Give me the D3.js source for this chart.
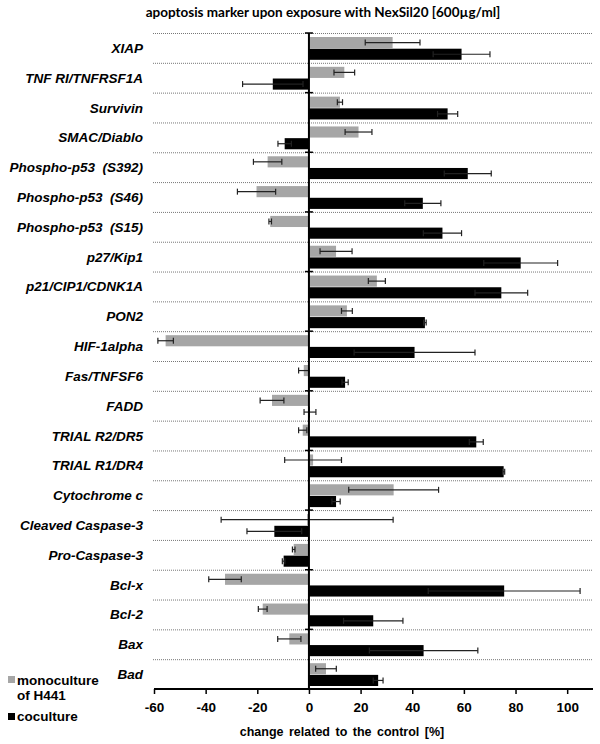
<!DOCTYPE html>
<html>
<head>
<meta charset="utf-8">
<script src="https://cdn.jsdelivr.net/npm/d3@7"></script>
<style>
  body { margin: 0; background: #fff; }
  svg { display: block; }
</style>
</head>
<body>
<svg id="chart" width="600" height="744"></svg>
<script>
// categories, top to bottom
const markers = ["XIAP", "TNF RI/TNFRSF1A", "Survivin", "SMAC/Diablo", "Phospho-p53  (S392)",
  "Phospho-p53  (S46)", "Phospho-p53  (S15)", "p27/Kip1", "p21/CIP1/CDNK1A", "PON2",
  "HIF-1alpha", "Fas/TNFSF6", "FADD", "TRIAL R2/DR5", "TRIAL R1/DR4", "Cytochrome c",
  "Cleaved Caspase-3", "Pro-Caspase-3", "Bcl-x", "Bcl-2", "Bax", "Bad"];
const mono = [32.4, 13.7, 12, 19.2, -16, -20.3, -15, 10.5, 26.3, 14.7,
  -55.5, -2, -14.3, -2.4, 1.6, 32.8, -0.7, -5.9, -32.5, -17.9, -7.6, 6.6];
const monoErr = [10.6, 4, 1, 5.2, 5.5, 7.4, 0.5, 6.2, 3.3, 2.1,
  3, 2, 4.6, 1.6, 11, 17.4, 33.3, 0.5, 6.3, 1.7, 4.5, 4];
const cocu = [59.1, -14, 53.7, -9.4, 61.5, 44.1, 51.7, 82, 74.5, 44.9,
  40.9, 14, 0.4, 64.8, 75.4, 10.5, -13.4, -9.8, 75.6, 24.9, 44.4, 26.8];
const cocuErr = [11, 11.7, 3.9, 2.6, 9.1, 7, 7.4, 14.3, 10.2, 0.5,
  23.4, 1.2, 2.3, 2.7, 0.4, 1.6, 10.6, 0.5, 29.4, 11.5, 21, 1.9];
const xTicks = [-60, -40, -20, 0, 20, 40, 60, 80, 100];
const seriesNames = ["monoculture", "coculture"];
const seriesColors = ["#a6a6a6", "#000000"];

const svg = d3.select("#chart");
const plotLeft = 154, plotRight = 593, plotTop = 33, plotBottom = 689;
const arial = "'Liberation Sans', Arial, sans-serif";

const x = d3.scaleLinear().domain([-60, 110]).range([plotLeft, plotRight]);
const y = d3.scaleBand().domain(markers).range([plotTop, plotBottom]).padding(0);
const sub = d3.scaleBand().domain(seriesNames).range([4, y.bandwidth() - 3]).paddingInner(0.05);

// title
svg.append("text").attr("x", 323).attr("y", 17).attr("text-anchor", "middle")
  .style("font-family", "Lato, 'Open Sans', sans-serif").style("font-weight", "bold")
  .style("font-size", "13.5px").text("apoptosis marker upon exposure with NexSil20 [600µg/ml]");

// dotted separators
const seps = markers.map(m => y(m));
svg.append("g").selectAll("line").data(seps).enter().append("line")
  .attr("x1", plotLeft - 1).attr("x2", plotRight - 1)
  .attr("y1", d => d + 0.5).attr("y2", d => d + 0.5)
  .attr("stroke", "#777").attr("stroke-width", 1).attr("stroke-dasharray", "1,1");

// bars
const rows = markers.map((m, i) => ({ m: m, vals: [
  { s: "monoculture", v: mono[i], e: monoErr[i] },
  { s: "coculture", v: cocu[i], e: cocuErr[i] }] }));

const rowG = svg.append("g").selectAll("g").data(rows).enter().append("g")
  .attr("transform", d => "translate(0," + y(d.m) + ")");

rowG.selectAll("rect").data(d => d.vals).enter().append("rect")
  .attr("x", d => x(Math.min(0, d.v)))
  .attr("width", d => Math.abs(x(d.v) - x(0)))
  .attr("y", d => sub(d.s))
  .attr("height", sub.bandwidth())
  .attr("fill", (d, i) => seriesColors[i]);

// error bars
const err = rowG.selectAll("g.err").data(d => d.vals).enter().append("g").attr("class", "err");
err.append("line")
  .attr("x1", d => x(d.v - d.e)).attr("x2", d => x(d.v + d.e))
  .attr("y1", d => sub(d.s) + sub.bandwidth() / 2).attr("y2", d => sub(d.s) + sub.bandwidth() / 2)
  .attr("stroke", "#222").attr("stroke-width", 1.2);
err.selectAll("line.cap").data(d => [d.v - d.e, d.v + d.e].map(c => ({ c: c, s: d.s })))
  .enter().append("line").attr("class", "cap")
  .attr("x1", d => x(d.c)).attr("x2", d => x(d.c))
  .attr("y1", d => sub(d.s) + sub.bandwidth() / 2 - 3).attr("y2", d => sub(d.s) + sub.bandwidth() / 2 + 3)
  .attr("stroke", "#222").attr("stroke-width", 1.2);

// category labels
svg.append("g").selectAll("text").data(markers).enter().append("text")
  .attr("x", 143).attr("y", d => y(d) + y.bandwidth() / 2 + 5)
  .attr("text-anchor", "end")
  .style("font-family", arial)
  .style("font-weight", "bold").style("font-style", "italic").style("font-size", "13.5px")
  .style("white-space", "pre")
  .text(d => d);

// y axis line and ticks every two rows
svg.append("line").attr("x1", x(0)).attr("x2", x(0)).attr("y1", plotTop).attr("y2", plotBottom)
  .attr("stroke", "#000").attr("stroke-width", 2);
svg.append("g").selectAll("line").data(markers.filter((m, i) => i % 2 == 0)).enter().append("line")
  .attr("x1", x(0) - 4).attr("x2", x(0) + 4)
  .attr("y1", d => y(d)).attr("y2", d => y(d))
  .attr("stroke", "#000").attr("stroke-width", 1.5);

// x axis
const xAxis = d3.axisBottom(x).tickValues(xTicks).tickSize(5).tickSizeOuter(0).tickPadding(8)
  .tickFormat(d => String(d));
const gx = svg.append("g").attr("transform", "translate(0," + plotBottom + ")").call(xAxis);
gx.select(".domain").attr("stroke-width", 2).attr("d", "M" + plotLeft + ",0H" + plotRight);
gx.selectAll(".tick line").attr("stroke-width", 1.5);
gx.selectAll(".tick text")
  .style("font-family", arial)
  .style("font-weight", "bold").style("font-size", "13.5px").attr("fill", "#000");

svg.append("text").attr("x", 342).attr("y", 736).attr("text-anchor", "middle")
  .style("font-family", arial)
  .style("font-weight", "bold").style("font-size", "12.5px")
  .style("word-spacing", "2px")
  .text("change related to the control [%]");

// legend
const leg = svg.append("g").style("font-family", arial)
  .style("font-weight", "bold").style("font-size", "13.5px");
leg.append("rect").attr("x", 8).attr("y", 676).attr("width", 7).attr("height", 7).attr("fill", seriesColors[0]);
leg.append("text").attr("x", 17).attr("y", 685).text("monoculture");
leg.append("text").attr("x", 17).attr("y", 700).text("of H441");
leg.append("rect").attr("x", 8).attr("y", 713).attr("width", 7).attr("height", 7).attr("fill", seriesColors[1]);
leg.append("text").attr("x", 17).attr("y", 721).text(seriesNames[1]);
</script>
</body>
</html>
